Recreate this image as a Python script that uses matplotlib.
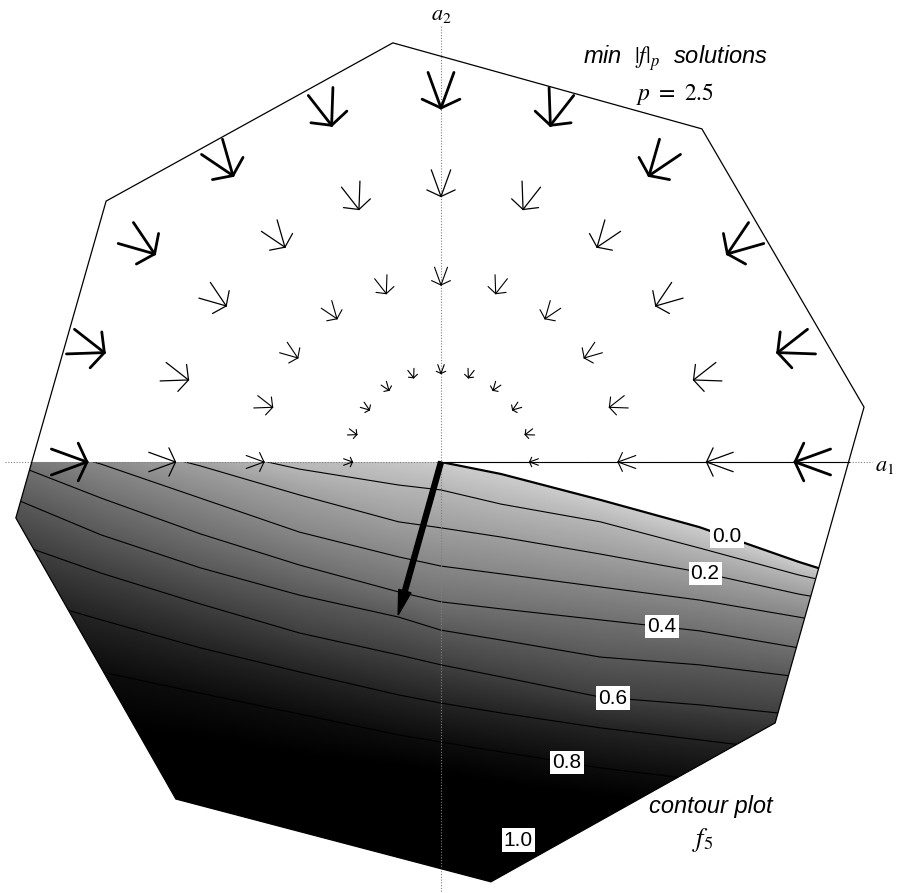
import numpy as np
import matplotlib
matplotlib.use("Agg")
import matplotlib.pyplot as plt
from matplotlib.patches import Polygon
from matplotlib.colors import LinearSegmentedColormap

plt.rcParams['mathtext.fontset'] = 'stix'

# ---------------- data (a1, a2 units) ----------------
# octagon of admissible (a1, a2)
poly_a1 = [-0.136, 0.737, 1.195, 0.944, 0.141, -0.749, -1.201, -0.946]
poly_a2 = [1.184, 0.941, 0.155, -0.737, -1.186, -0.952, -0.158, 0.737]

# min |f|_p solution glyphs: rings and polar angles
ring_radii = [0.25, 0.5, 0.75, 1.0]
glyph_angles_deg = [0, 18, 36, 54, 72, 90, 108, 126, 144, 162, 180]

# contour plot of f5: a2 position of each level line at a1 stations
station_a1 = [-1.25, -0.96, -0.68, -0.40, -0.12, 0.0, 0.17, 0.45, 0.73, 1.01, 1.30]
levels = [0.0, 0.1, 0.2, 0.3, 0.4, 0.5, 0.6, 0.7, 0.8, 0.9, 1.0]
contour_a2 = [
    [0.373, 0.274, 0.175, 0.090, 0.028, 0.000, -0.034, -0.107, -0.184, -0.282, -0.373],
    [0.189, 0.090, 0.042, -0.020, -0.065, -0.079, -0.119, -0.169, -0.243, -0.319, -0.384],
    [0.119, 0.062, -0.011, -0.093, -0.169, -0.186, -0.212, -0.260, -0.311, -0.373, -0.424],
    [0.076, -0.006, -0.102, -0.198, -0.268, -0.294, -0.316, -0.353, -0.390, -0.438, -0.489],
    [0.011, -0.102, -0.203, -0.291, -0.367, -0.395, -0.415, -0.446, -0.477, -0.525, -0.573],
    [-0.085, -0.206, -0.299, -0.376, -0.438, -0.475, -0.503, -0.551, -0.573, -0.607, -0.644],
    [-0.212, -0.314, -0.401, -0.483, -0.545, -0.573, -0.607, -0.664, -0.686, -0.715, -0.743],
    [-0.362, -0.446, -0.525, -0.593, -0.658, -0.681, -0.709, -0.751, -0.785, -0.819, -0.847],
    [-0.531, -0.593, -0.653, -0.712, -0.771, -0.791, -0.819, -0.864, -0.898, -0.932, -0.960],
    [-0.729, -0.751, -0.785, -0.833, -0.862, -0.884, -0.912, -0.946, -0.983, -1.017, -1.054],
    [-0.927, -0.941, -0.969, -0.997, -1.025, -1.040, -1.062, -1.096, -1.130, -1.167, -1.203],
]
label_levels = [0.0, 0.2, 0.4, 0.6, 0.8, 1.0]
label_a1 = [0.808, 0.746, 0.624, 0.486, 0.356, 0.218]

# steepest-descent direction arrow
solution_dir = (-0.121, -0.432)

# grey shade of each level
level_grey = [0.80, 0.71, 0.62, 0.53, 0.44, 0.35, 0.25, 0.14, 0.05, 0.0, 0.0]

# ---------------- figure ----------------
fig = plt.figure(figsize=(8.98, 8.93), dpi=100)
ax = fig.add_axes([0, 0, 1, 1])
ax.set_xlim(-441 / 354, 457 / 354)
ax.set_ylim(-431 / 354, 462 / 354)
ax.axis('off')

# lower half of the octagon (a2 <= 0)
def lower_half(xs, ys):
    pts = []
    n = len(xs)
    for i in range(n):
        x0, y0 = xs[i], ys[i]
        x1, y1 = xs[(i + 1) % n], ys[(i + 1) % n]
        if y0 <= 0:
            pts.append((x0, y0))
        if (y0 < 0) != (y1 < 0):
            t = y0 / (y0 - y1)
            pts.append((x0 + t * (x1 - x0), 0.0))
    return pts

low_pts = lower_half(poly_a1, poly_a2)
low_patch = Polygon(low_pts, closed=True, transform=ax.transData,
                    facecolor='none', edgecolor='none')
ax.add_patch(low_patch)

# shaded field
ga1 = np.linspace(-1.25, 1.30, 700)
ga2 = np.linspace(-1.22, 0.0, 420)
L = np.array(contour_a2)
Lc = np.array([np.interp(ga1, station_a1, row) for row in L])
F = np.full((ga2.size, ga1.size), np.nan)
for j in range(ga1.size):
    col = Lc[:, j]
    F[:, j] = np.interp(-ga2, -col, levels, left=np.nan, right=1.0)
F = np.ma.masked_invalid(F)
cmap = LinearSegmentedColormap.from_list(
    'shade', [(lv, (g, g, g)) for lv, g in zip(levels, level_grey)])
cmap.set_bad((1, 1, 1, 0))
im = ax.imshow(F, origin='lower', extent=[ga1[0], ga1[-1], ga2[0], ga2[-1]],
               cmap=cmap, vmin=0, vmax=1, interpolation='bilinear',
               aspect='auto', zorder=1)
im.set_clip_path(low_patch)

# contour lines
for lev, row in zip(levels, contour_a2):
    ln, = ax.plot(station_a1, row, color='black',
                  lw=1.6 if lev == 0.0 else 0.8, zorder=2)
    ln.set_clip_path(low_patch)

# contour labels
for lev, xa in zip(label_levels, label_a1):
    row = contour_a2[levels.index(lev)]
    ya = np.interp(xa, station_a1, row)
    ax.text(xa, ya, f'{lev:.1f}', ha='center', va='center', fontsize=15,
            family='Liberation Sans', zorder=7,
            bbox=dict(boxstyle='square,pad=0.1', fc='white', ec='none'))

# octagon outline
ax.add_patch(Polygon(list(zip(poly_a1, poly_a2)), closed=True, fill=False,
                     edgecolor='black', lw=0.9, zorder=5))

# axes (dotted)
ax.plot([0, 0], [-1.22, 1.235], ls=(0, (1, 1.5)), lw=0.8, color='0.5', zorder=3)
ax.plot([-1.232, 1.218], [0, 0], ls=(0, (1, 1.5)), lw=0.8, color='0.5', zorder=3)
right_cross = max(p[0] for p in low_pts if p[1] == 0.0)
ax.plot([0, right_cross], [0, 0], color='black', lw=0.8, zorder=3)

# solution glyphs
glyph_len = 0.107
ring_lw = [0.8, 0.8, 0.9, 2.0]
for r, lw in zip(ring_radii, ring_lw):
    for th in glyph_angles_deg:
        t = np.deg2rad(th)
        tx, ty = r * np.cos(t), r * np.sin(t)
        Lg = glyph_len * r
        for d, frac in [(20, 1.0), (-20, 1.0), (65, 0.55), (-65, 0.55)]:
            a = np.deg2rad(th + d)
            ax.plot([tx, tx + Lg * frac * np.cos(a)],
                    [ty, ty + Lg * frac * np.sin(a)],
                    color='black', lw=lw, solid_capstyle='round', zorder=6)

# descent direction arrow
ax.arrow(0, 0, solution_dir[0], solution_dir[1], width=0.014,
         head_width=0.036, head_length=0.07, length_includes_head=True,
         fc='black', ec='black', zorder=6)

# texts
ax.text(0.0, 1.263, r'$a_2$', ha='center', va='center', fontsize=16)
ax.text(1.254, -0.011, r'$a_1$', ha='center', va='center', fontsize=16)
ax.text(0.661, 1.141, r'min  $|f|_p$  solutions', ha='center', va='center',
        fontsize=17, family='Liberation Sans', style='italic')
ax.text(0.661, 1.040, r'$p\ =\ 2.5$', ha='center', va='center', fontsize=17)
ax.text(0.763, -0.972, 'contour plot', ha='center', va='center',
        fontsize=17, family='Liberation Sans', style='italic')
ax.text(0.740, -1.068, r'$f_5$', ha='center', va='center', fontsize=19)

fig.savefig('out.png', dpi=100)
